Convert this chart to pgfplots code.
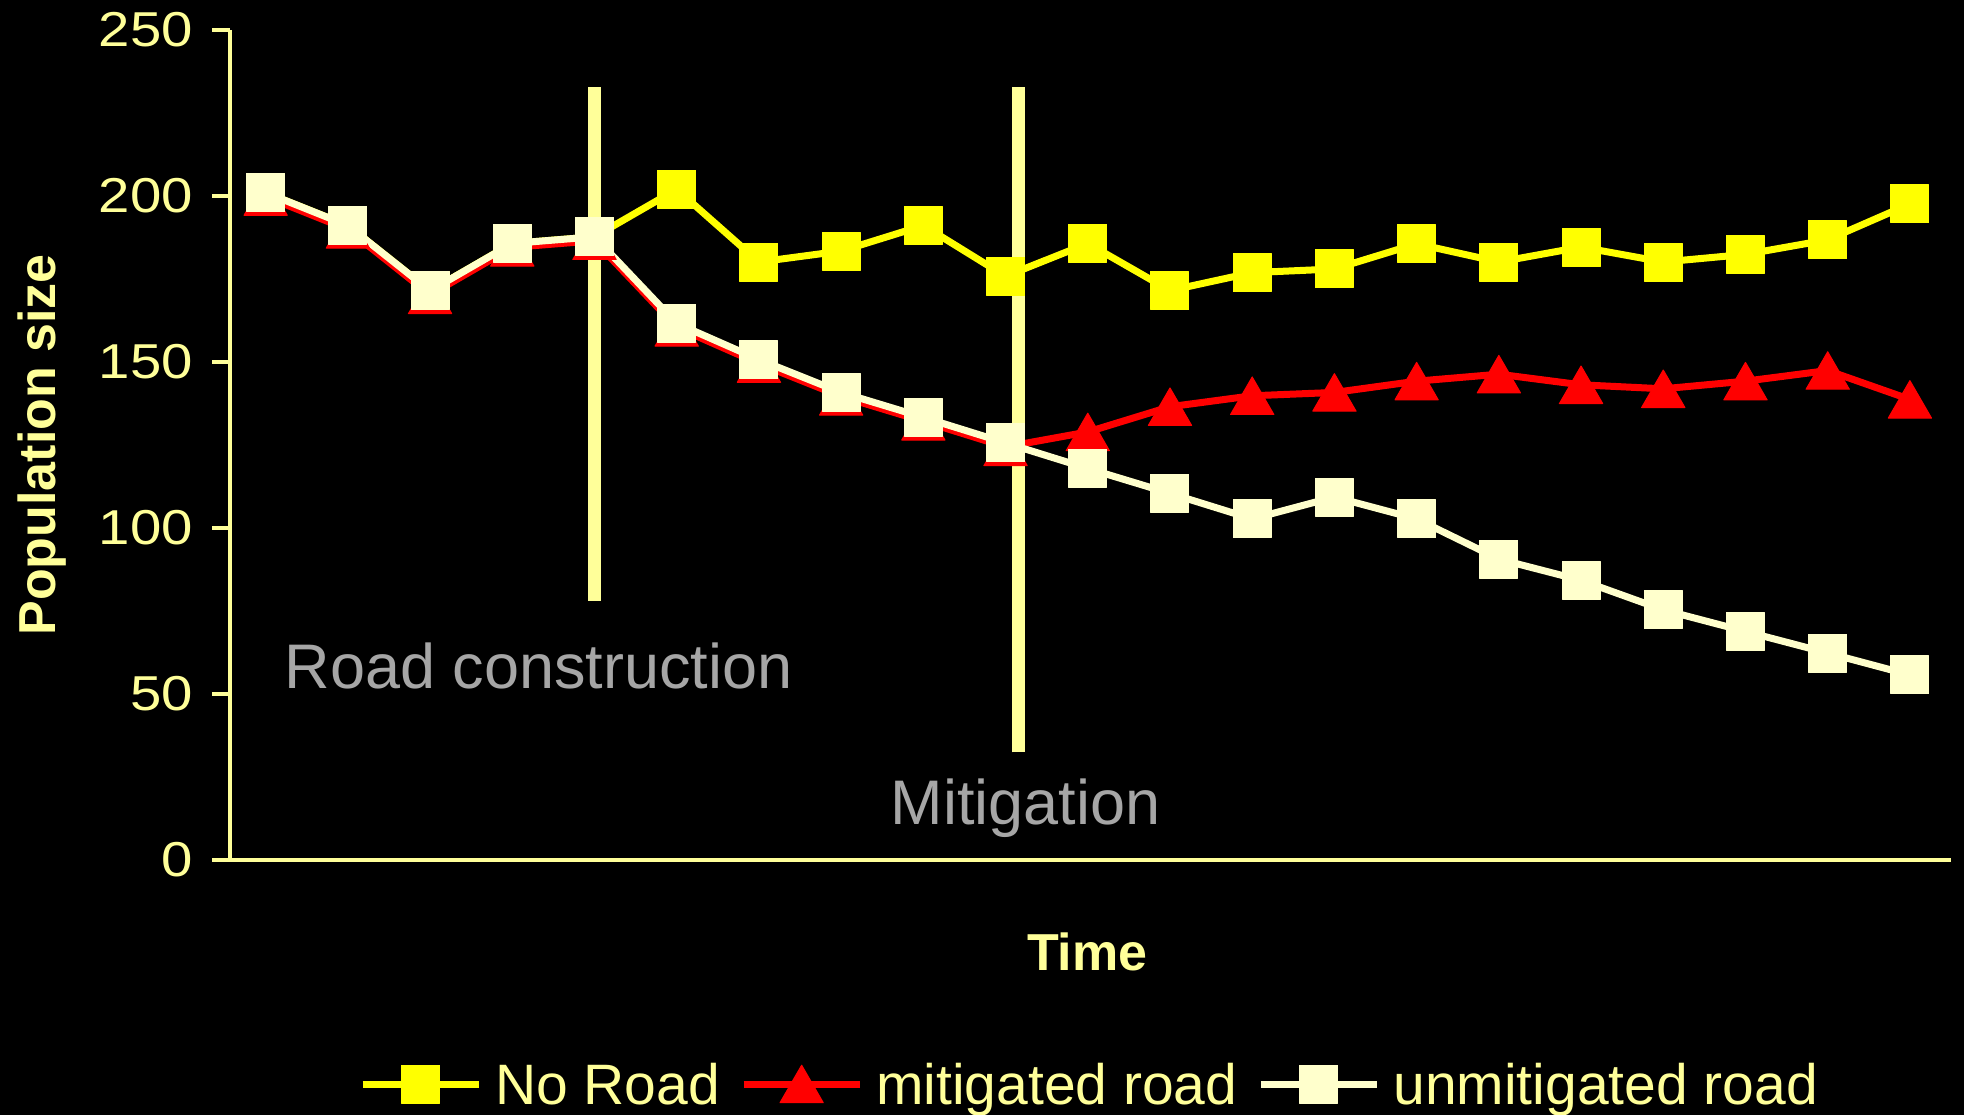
\documentclass[border=0pt]{standalone}
\usepackage{fontspec}
\setmainfont{Liberation Sans}
\newfontfamily\tickfont[FakeStretch=1.15]{Liberation Sans}
\usepackage{pgfplots}
\pgfplotsset{compat=1.18}

\definecolor{paleyellow}{HTML}{FFFF99}
\definecolor{cream}{HTML}{FFFFCC}
\definecolor{notegray}{HTML}{A6A6A6}
\definecolor{brightyellow}{HTML}{FFFF00}
\definecolor{brightred}{HTML}{FF0000}

\begin{document}
\begin{tikzpicture}
% page background
\fill[black] (0,0) rectangle (982bp,557.5bp);
\begin{axis}[
  at={(115.15bp,127.6bp)}, anchor=south west,
  scale only axis, width=860.35bp, height=414.9bp,
  xmin=0.57, xmax=21.5, ymin=0, ymax=250,
  axis x line*=bottom, axis y line*=left,
  axis line style={draw=paleyellow, line width=2bp, -},
  xtick=\empty,
  ytick={0,50,...,250},
  tick align=outside, ytick pos=left,
  major tick length=9bp,
  every tick/.style={draw=paleyellow, line width=1.8bp},
  /pgf/number format/assume math mode=true,
  yticklabel style={font=\tickfont\fontsize{24.5bp}{24.5bp}\selectfont, text=paleyellow, inner sep=0pt, anchor=east, xshift=-9.5bp},
  ylabel={Population size},
  every axis y label/.style={at={(axis description cs:-0.1014,0.5)}, anchor=base, rotate=90,
    font=\bfseries\fontsize{26bp}{26bp}\selectfont, text=paleyellow, inner sep=0pt},
  xlabel={Time},
  every axis x label/.style={at={(axis description cs:0.498,0)}, anchor=base, yshift=-55.5bp,
    font=\bfseries\fontsize{26bp}{26bp}\selectfont, text=paleyellow, inner sep=0pt},
  legend columns=3,
  legend style={at={(axis description cs:0.4988,-0.2702)}, anchor=center,
    draw=none, fill=none, inner sep=0pt,
    font=\fontsize{28.5bp}{28.5bp}\selectfont, text=paleyellow,
    nodes={inner sep=0pt, text height=20bp, text depth=0pt},
    /tikz/every odd column/.append style={column sep=6.5bp},
    /tikz/every even column/.append style={column sep=10bp}},
  legend image code/.code={\draw[mark repeat=2,mark phase=2] plot coordinates {(0bp,0bp) (29bp,0bp) (58bp,0bp)};},
  clip=false,
]
% no road
\addplot[brightyellow, line width=3.5bp, line join=round,
  mark=square*, mark size=9.5bp, mark options={solid, line width=0.5bp, fill=brightyellow}]
  coordinates {
  (1,201.0) (2,191.1) (3,171.4) (4,185.7) (5,187.7) (6,202.0) (7,180.1)
  (8,183.4) (9,191.1) (10,175.8) (11,185.7) (12,171.5) (13,176.9) (14,178.0)
  (15,185.6) (16,180.1) (17,184.6) (18,180.1) (19,182.4) (20,186.8) (21,197.6)};
\addlegendentry{No Road}
% mitigated road
\addplot[brightred, line width=3.5bp, line join=round,
  mark=triangle*, mark size=12.5bp, mark options={solid, line width=0.5bp, fill=brightred, yshift=-3.1bp}]
  coordinates {
  (1,199.8) (2,189.9) (3,170.2) (4,184.5) (5,186.5) (6,160.4) (7,149.5)
  (8,139.6) (9,132.1) (10,124.4) (11,128.9) (12,136.5) (13,139.8) (14,140.8)
  (15,144.2) (16,146.3) (17,143.1) (18,141.9) (19,144.2) (20,147.4) (21,138.7)};
\addlegendentry{mitigated road}
% unmitigated road
\addplot[cream, line width=3.5bp, line join=round,
  mark=square*, mark size=9.5bp, mark options={solid, line width=0.5bp, fill=cream}]
  coordinates {
  (1,201.0) (2,191.1) (3,171.4) (4,185.7) (5,187.7) (6,161.6) (7,150.7)
  (8,140.8) (9,133.3) (10,125.6) (11,117.9) (12,110.4) (13,102.7) (14,109.3)
  (15,102.7) (16,90.6) (17,84.2) (18,75.3) (19,68.8) (20,62.3) (21,55.7)};
\addlegendentry{unmitigated road}
% event markers
\addplot[paleyellow, line width=6.5bp, mark=none, forget plot] coordinates {(5,78.0) (5,232.8)};
\addplot[paleyellow, line width=6.5bp, mark=none, forget plot] coordinates {(10.16,32.4) (10.16,232.9)};
\node[anchor=base west, inner sep=0pt, text=notegray, font=\fontsize{31.5bp}{31.5bp}\selectfont]
  at (axis cs:1.226,51.7) {Road construction};
\node[anchor=base west, inner sep=0pt, text=notegray, font=\fontsize{31.5bp}{31.5bp}\selectfont]
  at (axis cs:8.598,10.5) {Mitigation};
\end{axis}
\pgfresetboundingbox
\useasboundingbox (0,0) rectangle (982bp,557.5bp);
\end{tikzpicture}
\end{document}
